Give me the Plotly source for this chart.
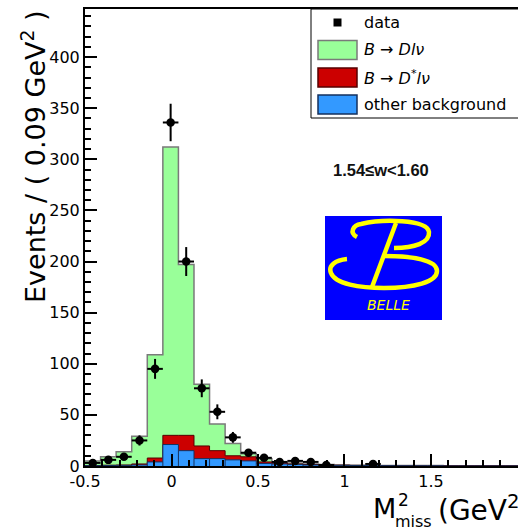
import numpy as np
import plotly.graph_objects as go

# ---------------- data ----------------
bin_start = -0.5
bin_width = 0.09
n_bins = 30

data_counts = [3, 6, 9, 25, 95, 336, 200, 76, 53, 28, 13, 8, 4, 5, 4, 1, 0, 0, 2, 0,
               0, 0, 0, 0, 0, 0, 0, 0, 0, 0]
d_lnu = [4.5, 8.2, 13, 27, 101, 282, 167, 60.4, 26, 12, 3, 3, 1, 1, 0.5, 0.5, 0.2, 0.2, 0.1, 0.1,
         0.1, 0.1, 0.1, 0.1, 0.1, 0.1, 0.0, 0.0, 0.0, 0.0]
dstar_lnu = [0.2, 0.3, 0.4, 1, 3.8, 9, 15, 12.4, 7.8, 4, 4, 1.5, 1, 0.5, 0.5, 0.2, 0.2, 0.1, 0.1, 0.1,
             0.1, 0.1, 0.1, 0.1, 0.1, 0.1, 0.1, 0.1, 0.1, 0.1]
other_bkg = [0.3, 0.5, 0.6, 1, 4, 21, 15, 7.2, 7.2, 6, 5, 2.5, 2, 1.5, 1, 0.8, 0.6, 0.5, 0.4, 0.3,
             0.2, 0.2, 0.2, 0.1, 0.1, 0.1, 0.1, 0.1, 0.1, 0.1]

x_tick_vals = [-0.5, 0, 0.5, 1, 1.5, 2]
x_tick_text = ["-0.5", "0", "0.5", "1", "1.5", "2"]
y_tick_vals = [0, 50, 100, 150, 200, 250, 300, 350, 400]
y_tick_text = ["0", "50", "100", "150", "200", "250", "300", "350", "400"]

legend_labels = ["data", "<i>B</i> \u2192 <i>Dl\u03bd</i>",
                 "<i>B</i> \u2192 <i>D</i><sup>*</sup><i>l\u03bd</i>", "other background"]
bin_label = "1.54\u2264w<1.60"

# ---------------- styling / geometry ----------------
W, H = 518, 529
L, R, T, B = 85, 0, 9, 63
pw, ph = W - L - R, H - T - B
FONT = "DejaVu Sans"
GREEN, RED, BLUE = "#99ff99", "#cc0000", "#3399ff"


def fx(p):
    return (p - L) / pw


def fy(p):
    return (H - B - p) / ph


edges = bin_start + bin_width * np.arange(n_bins + 1)
centers = edges[:-1] + bin_width / 2
other = np.array(other_bkg, float)
red_top = other + np.array(dstar_lnu, float)
total = red_top + np.array(d_lnu, float)


def step(v):
    return list(v) + [v[-1]]


fig = go.Figure()
fig.add_trace(go.Scatter(x=edges, y=step(total), mode="lines",
                         line=dict(shape="hv", color="#7a7a7a", width=1.5),
                         fill="tozeroy", fillcolor=GREEN, hoverinfo="skip"))
fig.add_trace(go.Scatter(x=edges, y=step(red_top), mode="lines",
                         line=dict(shape="hv", color="#550000", width=1),
                         fill="tozeroy", fillcolor=RED, hoverinfo="skip"))
fig.add_trace(go.Scatter(x=edges, y=step(other), mode="lines",
                         line=dict(shape="hv", color="#14305e", width=1),
                         fill="tozeroy", fillcolor=BLUE, hoverinfo="skip"))
# internal bin separators of the blue histogram
sx, sy = [], []
for i in range(1, n_bins):
    h = min(other[i - 1], other[i])
    if h > 0.5:
        sx += [edges[i], edges[i], None]
        sy += [0, h, None]
fig.add_trace(go.Scatter(x=sx, y=sy, mode="lines", line=dict(color="#14305e", width=1),
                         hoverinfo="skip"))

counts = np.array(data_counts, float)
mask = counts > 0
fig.add_trace(go.Scatter(
    x=centers[mask], y=counts[mask], mode="markers",
    marker=dict(color="black", size=8.5, symbol="circle"),
    error_y=dict(type="data", array=np.sqrt(counts[mask]), thickness=2, width=0, color="black"),
    error_x=dict(type="constant", value=bin_width / 2, thickness=2, width=0, color="black"),
))

axis_common = dict(showgrid=False, zeroline=False, showline=True, linecolor="black",
                   linewidth=2, ticks="inside", ticklen=12, tickwidth=1.5, tickcolor="black",
                   tickfont=dict(family=FONT, size=16, color="black"))

fig.update_layout(
    width=W, height=H, margin=dict(l=L, r=R, t=T, b=B, pad=0),
    plot_bgcolor="white", paper_bgcolor="white", showlegend=False,
    xaxis=dict(range=[-0.5, 2.003], tickmode="array", tickvals=x_tick_vals, ticktext=x_tick_text,
               mirror=True,
               minor=dict(tickmode="linear", tick0=-0.5, dtick=0.1, ticks="inside", ticklen=6,
                          tickwidth=1.5, tickcolor="black", showgrid=False),
               **axis_common),
    yaxis=dict(range=[0, 447], tickmode="array", tickvals=y_tick_vals, ticktext=y_tick_text,
               minor=dict(tickmode="linear", tick0=0, dtick=10, ticks="inside", ticklen=6,
                          tickwidth=1.5, tickcolor="black", showgrid=False),
               **axis_common),
)

shapes = []
ann = []

# ---- legend (drawn by hand) ----
shapes.append(dict(type="rect", xref="paper", yref="paper", x0=fx(311), x1=fx(530),
                   y0=fy(118), y1=fy(9), line=dict(color="black", width=1), fillcolor="white",
                   layer="above"))
shapes.append(dict(type="rect", xref="paper", yref="paper", x0=fx(333.5), x1=fx(341.5),
                   y0=fy(26.5), y1=fy(18.5), line=dict(color="black", width=0), fillcolor="black",
                   layer="above"))
for (yc, fc, lc) in [(50, GREEN, "#7a7a7a"), (77.5, RED, "#550000"), (104.5, BLUE, "#14305e")]:
    shapes.append(dict(type="rect", xref="paper", yref="paper", x0=fx(318), x1=fx(357),
                       y0=fy(yc + 9.5), y1=fy(yc - 9.5), line=dict(color=lc, width=1.5),
                       fillcolor=fc, layer="above"))
for lab, yc in zip(legend_labels, [22.5, 50, 77.5, 104.5]):
    ann.append(dict(text=lab, xref="paper", yref="paper", x=fx(362), y=fy(yc),
                    xanchor="left", yanchor="middle", showarrow=False,
                    font=dict(family=FONT, size=16, color="black")))

# ---- bin label ----
ann.append(dict(text="<b>" + bin_label + "</b>", xref="paper", yref="paper", x=fx(381), y=fy(170),
                xanchor="center", yanchor="middle", showarrow=False,
                font=dict(family="Liberation Sans", size=16.5, color="#111111")))

# ---- Belle logo ----
shapes.append(dict(type="rect", xref="paper", yref="paper", x0=fx(325), x1=fx(442),
                   y0=fy(320), y1=fy(216), line=dict(width=0), fillcolor="#0000ff", layer="above"))


def path(cmds):
    out = []
    for c in cmds:
        if isinstance(c, str):
            out.append(c)
        else:
            out.append("%.5f,%.5f" % (fx(c[0]), fy(c[1])))
    return " ".join(out)


yel = dict(color="#ffff00", width=4.5)
upper = path(["M", (357, 237), "C", (349, 233), (353, 225), (361, 224),
              "C", (382, 219), (427, 219), (429, 232),
              "C", (430, 243), (414, 248), (394, 248)])
lower = path(["M", (347, 259), "C", (335, 260), (328, 266), (331, 273),
              "C", (335, 284), (360, 288), (384, 288),
              "C", (414, 288), (437, 282), (437, 271),
              "C", (437, 260), (412, 256), (385, 256)])
diag = path(["M", (396, 223), "L", (372, 287)])
for p in (upper, lower, diag):
    shapes.append(dict(type="path", xref="paper", yref="paper", path=p, line=yel, layer="above"))
ann.append(dict(text="<i>BELLE</i>", xref="paper", yref="paper", x=fx(388), y=fy(305),
                xanchor="center", yanchor="middle", showarrow=False,
                font=dict(family=FONT, size=14, color="#ffff00")))

# ---- axis titles ----
ann.append(dict(text="Events / ( 0.09 GeV<sup>2</sup> )", xref="paper", yref="paper",
                x=fx(33), y=fy(157), xanchor="center", yanchor="middle", textangle=-90,
                showarrow=False, font=dict(family=FONT, size=27, color="black")))
ann.append(dict(text="M", xref="paper", yref="paper", x=fx(371), y=fy(509),
                xanchor="left", yanchor="middle", showarrow=False,
                font=dict(family=FONT, size=27, color="black")))
ann.append(dict(text="2", xref="paper", yref="paper", x=fx(396), y=fy(500),
                xanchor="left", yanchor="middle", showarrow=False,
                font=dict(family=FONT, size=17, color="black")))
ann.append(dict(text="miss", xref="paper", yref="paper", x=fx(393), y=fy(521),
                xanchor="left", yanchor="middle", showarrow=False,
                font=dict(family=FONT, size=16, color="black")))
ann.append(dict(text="(GeV<sup>2</sup>)", xref="paper", yref="paper", x=fx(436), y=fy(509),
                xanchor="left", yanchor="middle", showarrow=False,
                font=dict(family=FONT, size=28, color="black")))

fig.update_layout(shapes=shapes, annotations=ann)
fig.write_html("out.html", config={"displayModeBar": False},
               post_script="document.body.style.margin='0px';")
